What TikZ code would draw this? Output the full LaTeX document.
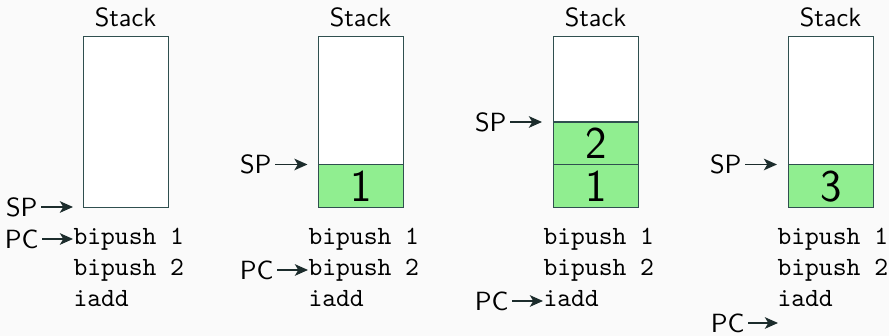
\documentclass[tikz,border=0pt]{standalone}
\usetikzlibrary{arrows.meta}
\definecolor{bgc}{HTML}{FAFAFA}
\definecolor{edgec}{HTML}{2F4F4F}
\definecolor{cellc}{HTML}{90EE90}
\definecolor{arrc}{HTML}{1C2C2C}
\begin{document}
\begin{tikzpicture}[x=0.38pt,y=-0.38pt,
  stackbox/.style={draw=edgec,line width=0.45pt,fill=white,minimum width=85*0.38pt,minimum height=171*0.38pt,inner sep=0,anchor=north west},
  cellbox/.style={draw=edgec,line width=0.45pt,fill=cellc,minimum width=85*0.38pt,minimum height=42.75*0.38pt,inner sep=0,anchor=north west,font=\sffamily\LARGE},
  title/.style={font=\sffamily,inner sep=0},
  ptr/.style={font=\sffamily,inner sep=0,anchor=east},
  codeline/.style={font=\ttfamily,inner sep=0,anchor=base west},
  ptrarrow/.style={draw=arrc,line width=0.6pt,-{Stealth[length=5pt,width=4.4pt,inset=1.3pt]},shorten <=3*0.38pt}
]
\useasboundingbox[fill=bgc] (0,0) rectangle (889,336);

% ---------- Panel 1 ----------
\node[stackbox] (b1) at (83,36) {};
\node[title] (t1) at (125.5,17) {Stack};
\coordinate (sp1e) at (73,207);
\node[ptr] (sp1) at (38,207) {SP};
\draw[ptrarrow] (sp1) -- (sp1e);
\node[codeline] (c11) at (73,245) {bipush 1};
\node[codeline] (c12) at (73,276) {bipush 2};
\node[codeline] (c13) at (73,307) {iadd};
\node[ptr] (pc1) at (39,239) {PC};
\draw[ptrarrow] (pc1) -- (c11.west |- pc1);

% ---------- Panel 2 ----------
\node[stackbox] (b2) at (318,36) {};
\node[cellbox] (v21) at (318,164.25) {1};
\node[title] (t2) at (360.5,17) {Stack};
\coordinate (sp2e) at (307.5,164.5);
\node[ptr] (sp2) at (272,164.5) {SP};
\draw[ptrarrow] (sp2) -- (sp2e);
\node[codeline] (c21) at (308,245) {bipush 1};
\node[codeline] (c22) at (308,276) {bipush 2};
\node[codeline] (c23) at (308,307) {iadd};
\node[ptr] (pc2) at (274,270) {PC};
\draw[ptrarrow] (pc2) -- (c22.west |- pc2);

% ---------- Panel 3 ----------
\node[stackbox] (b3) at (553,36) {};
\node[cellbox] (v32) at (553,121.5) {2};
\node[cellbox] (v31) at (553,164.25) {1};
\node[title] (t3) at (595.5,17) {Stack};
\coordinate (sp3e) at (542,122);
\node[ptr] (sp3) at (507,122) {SP};
\draw[ptrarrow] (sp3) -- (sp3e);
\node[codeline] (c31) at (543,245) {bipush 1};
\node[codeline] (c32) at (543,276) {bipush 2};
\node[codeline] (c33) at (543,307) {iadd};
\node[ptr] (pc3) at (509,301) {PC};
\draw[ptrarrow] (pc3) -- (c33.west |- pc3);

% ---------- Panel 4 ----------
\node[stackbox] (b4) at (788,36) {};
\node[cellbox] (v43) at (788,164.25) {3};
\node[title] (t4) at (830.5,17) {Stack};
\coordinate (sp4e) at (777,164.5);
\node[ptr] (sp4) at (742,164.5) {SP};
\draw[ptrarrow] (sp4) -- (sp4e);
\node[codeline] (c41) at (777,245) {bipush 1};
\node[codeline] (c42) at (777,276) {bipush 2};
\node[codeline] (c43) at (777,307) {iadd};
\coordinate (pc4e) at (778,323);
\node[ptr] (pc4) at (745,323) {PC};
\draw[ptrarrow] (pc4) -- (pc4e);
\end{tikzpicture}
\end{document}
